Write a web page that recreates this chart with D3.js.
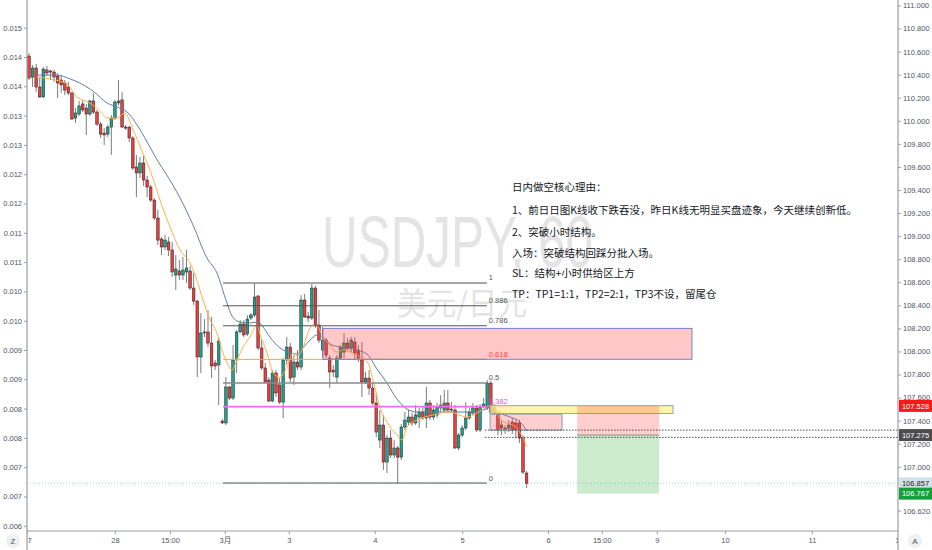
<!DOCTYPE html>
<html lang="zh">
<head>
<meta charset="UTF-8">
<title>USDJPY, 60</title>
<script src="https://d3js.org/d3.v7.min.js"></script>
<style>
  body { margin: 0; background: #fff; }
  svg { display: block; font-family: 'Liberation Sans', Arial, sans-serif; }
</style>
</head>
<body>
<div id="chart"></div>
<script>
// hourly candles (bar index 0 = first bar on the left)
const opens = [110.562,110.380,110.458,110.293,110.207,110.441,110.432,110.423,110.389,110.354,
  110.328,110.293,110.241,110.024,110.059,110.146,110.111,110.059,110.172,110.076,
  109.972,109.894,109.885,109.946,110.024,110.155,110.181,109.946,109.946,109.851,
  109.600,109.548,109.634,109.487,109.426,109.313,109.157,108.975,108.906,108.949,
  108.880,108.663,108.698,108.663,108.689,108.698,108.550,108.437,107.952,108.160,
  108.169,108.073,107.900,107.883,107.397,107.380,107.692,107.596,107.926,108.169,
  108.238,108.151,108.290,108.316,108.481,108.030,107.857,107.752,107.570,107.813,
  107.709,107.561,107.926,108.038,107.778,107.908,107.865,108.446,108.307,108.290,
  108.550,108.229,108.012,108.099,107.943,107.839,107.778,107.943,107.995,108.073,
  108.030,108.082,108.012,107.926,107.735,107.769,107.683,107.553,107.232,107.362,
  107.041,107.249,107.102,107.163,107.084,107.345,107.388,107.431,107.380,107.431,
  107.475,107.423,107.553,107.431,107.449,107.510,107.492,107.553,107.501,107.492,
  107.163,107.275,107.336,107.423,107.466,107.510,107.319,107.527,107.510,107.726,
  107.518,107.466,107.362,107.336,107.336,107.388,107.380,107.380,107.249,106.946];
const highs = [110.588,110.484,110.493,110.380,110.467,110.475,110.441,110.441,110.415,110.397,
  110.354,110.337,110.250,110.111,110.172,110.181,110.146,110.181,110.241,110.094,
  109.990,109.937,109.964,110.050,110.181,110.354,110.250,109.964,109.955,109.868,
  109.704,109.686,109.695,109.522,109.444,109.331,109.227,108.992,109.010,108.992,
  108.949,108.836,108.793,108.819,108.880,108.741,108.680,108.446,108.333,108.281,
  108.359,108.299,107.926,108.125,107.414,107.778,107.700,108.056,108.186,108.273,
  108.273,108.316,108.333,108.594,108.489,108.099,107.900,107.778,107.839,107.839,
  107.769,107.943,108.125,108.073,107.969,108.012,108.489,108.498,108.342,108.585,
  108.568,108.359,108.212,108.116,107.969,107.883,107.969,108.056,108.160,108.116,
  108.125,108.125,108.056,108.082,107.822,107.839,107.726,107.640,107.492,107.449,
  107.275,107.319,107.232,107.180,107.371,107.475,107.492,107.466,107.535,107.510,
  107.527,107.692,107.579,107.535,107.553,107.622,107.666,107.666,107.561,107.535,
  107.293,107.362,107.561,107.510,107.553,107.535,107.544,107.596,107.752,107.743,
  107.544,107.484,107.405,107.362,107.405,107.423,107.405,107.405,107.275,106.963];
const lows = [110.354,110.293,110.250,110.198,110.198,110.389,110.354,110.337,110.198,110.241,
  110.224,110.224,110.007,109.981,110.042,110.076,109.877,110.042,110.059,109.955,
  109.851,109.790,109.860,109.704,110.007,110.137,109.937,109.920,109.816,109.574,
  109.339,109.504,109.435,109.339,109.296,109.140,108.923,108.836,108.880,108.828,
  108.646,108.533,108.620,108.620,108.594,108.533,108.403,107.778,107.813,108.125,
  108.038,107.769,107.839,107.535,107.371,107.362,107.579,107.579,107.813,108.160,
  108.125,108.134,108.273,108.299,108.012,107.839,107.726,107.561,107.561,107.605,
  107.544,107.423,107.883,107.735,107.709,107.839,107.839,108.290,108.255,108.273,
  108.203,108.073,107.952,107.943,107.683,107.778,107.726,107.926,107.943,108.012,
  107.995,107.926,107.908,107.605,107.717,107.622,107.535,107.258,107.163,106.972,
  106.946,107.076,107.076,106.859,107.058,107.319,107.362,107.353,107.362,107.336,
  107.405,107.336,107.405,107.405,107.423,107.475,107.466,107.466,107.475,107.154,
  107.145,107.258,107.319,107.405,107.449,107.301,107.301,107.510,107.492,107.466,
  107.449,107.275,107.275,107.284,107.301,107.284,107.249,107.206,106.937,106.816];
const closes = [110.371,110.458,110.293,110.207,110.449,110.415,110.423,110.380,110.328,110.311,
  110.267,110.241,110.016,110.068,110.129,110.094,110.059,110.172,110.076,109.972,
  109.885,109.877,109.946,110.024,110.163,110.172,109.946,109.937,109.851,109.591,
  109.548,109.634,109.487,109.426,109.313,109.157,108.966,108.906,108.966,108.880,
  108.689,108.715,108.663,108.706,108.724,108.550,108.437,107.952,108.160,108.169,
  108.073,107.874,107.874,108.090,107.380,107.692,107.596,107.926,108.169,108.238,
  108.143,108.281,108.316,108.472,108.030,107.857,107.735,107.570,107.813,107.640,
  107.561,107.926,108.038,107.769,107.908,107.865,108.446,108.299,108.290,108.550,
  108.229,108.099,108.099,107.969,107.822,107.822,107.943,108.038,108.073,108.030,
  108.099,107.986,107.943,107.735,107.769,107.683,107.553,107.301,107.362,107.041,
  107.249,107.102,107.163,107.084,107.345,107.405,107.431,107.380,107.449,107.475,
  107.423,107.553,107.431,107.492,107.518,107.535,107.553,107.492,107.492,107.163,
  107.275,107.336,107.423,107.475,107.510,107.319,107.518,107.544,107.726,107.475,
  107.466,107.319,107.336,107.332,107.362,107.319,107.319,107.249,106.954,106.857];

// moving averages, points
const blueIdx = [2.2,7.8,11.5,14.2,18.2,21.8,24.6,27.4,30.2,33.0,35.8,38.5,42.2,45.8,49.7,52.5,
  55.3,56.7,58.9,61.7,64.0,65.4,67.3,70.1,72.3,74.9,76.5,78.5,80.4,82.1,84.1,86.9,91.6,94.4,
  97.2,100.0,102.8,105.6,108.4,115.6,120.4,124.0,126.8,129.3,131.6,134.4,137.2,139.1];
const blueVals = [110.397,110.397,110.363,110.328,110.250,110.155,110.120,110.076,109.964,109.816,
  109.660,109.530,109.331,109.097,108.811,108.680,108.420,108.307,108.255,108.247,108.255,108.212,
  108.125,108.030,107.995,107.978,108.030,108.099,108.143,108.125,108.064,108.038,108.012,107.978,
  107.848,107.726,107.587,107.501,107.475,107.475,107.475,107.475,107.492,107.518,107.466,107.431,
  107.388,107.310];
const orangeIdx = [2.2,7.3,10.6,13.4,17.0,19.8,21.8,24.6,26.8,29.1,31.8,34.6,36.6,39.4,42.2,45.0,
  46.9,48.6,50.6,52.5,54.2,55.6,56.7,58.1,59.8,61.7,63.7,64.5,66.5,68.2,70.1,72.1,73.7,74.9,76.5,
  77.9,79.3,80.7,82.1,84.1,86.0,87.7,90.5,93.0,94.7,96.1,98.0,100.0,102.8,104.2,105.6,108.4,112.8,
  117.6,122.3,125.1,127.9,129.3,131.6,136.3,139.1];
const orangeVals = [110.380,110.354,110.319,110.207,110.155,110.085,110.024,110.024,110.068,109.920,
  109.721,109.504,109.313,109.079,108.880,108.767,108.620,108.446,108.273,108.160,107.986,107.883,
  107.839,107.926,108.038,108.125,108.229,108.151,107.986,107.813,107.778,107.865,107.986,107.960,
  108.030,108.160,108.229,108.212,108.125,108.056,107.995,108.012,107.986,107.943,107.900,107.752,
  107.518,107.388,107.275,107.232,107.345,107.405,107.449,107.475,107.431,107.466,107.518,107.535,
  107.414,107.336,107.171];

// axes
const rightTicks = [111.0,110.8,110.6,110.4,110.2,110.0,109.8,109.6,109.4,109.2,109.0,108.8,
  108.6,108.4,108.2,108.0,107.8,107.6,107.4,107.2,107.0,106.62];
const leftTicks = [0.0150,0.0145,0.0140,0.0135,0.0130,0.0125,0.0120,0.0115,0.0110,
  0.0105,0.0100,0.0095,0.0090,0.0085,0.0080,0.0075,0.0070,0.0065];
const leftTickLabels = ['0.015','0.014','0.014','0.013','0.013','0.012','0.012','0.011','0.011',
  '0.010','0.010','0.009','0.009','0.008','0.008','0.007','0.007','0.006'];
const timeTicks = [-0.56,24,39.4,54.7,72.6,96.6,121,145,160,175.4,194.4,218.7,243];
const timeLabels = ['27','28','15:00','3月','3','4','5','6','15:00','9','10','11','12'];

// drawings
const fibHigh = 108.594, fibLow = 106.859;
const fibLevels = [1, 0.886, 0.786, 0.618, 0.5, 0.382, 0];
const fibLabels = ['1','0.886','0.786','0.618','0.5','0.382','0'];
const fibSpan = [54.2, 127.9];
const supplyZone = [82.1, 185.2, 108.200, 107.932];
const entryZone = [128.8, 179.9, 107.530, 107.462];
const hourZone = [128.8, 148.9, 107.457, 107.318];
const position = { start: 153.1, end: 176, entry: 107.275, stop: 107.528, target: 106.767 };
const dottedLevels = [107.318, 107.255];
const lastPrice = 106.857;
const axisMarks = [107.528, 107.275, 106.857, 106.767];

const notes = [
  '日内做空核心理由：',
  '1、前日日图K线收下跌吞没，昨日K线无明显买盘迹象，今天继续创新低。',
  '2、突破小时结构。',
  '入场：突破结构回踩分批入场。',
  'SL：结构+小时供给区上方',
  'TP：TP1=1:1，TP2=2:1，TP3不设，留尾仓'
];

const W = 932, H = 550;
const left = 27, right = 898, bottom = 531;

const x = d3.scaleLinear().domain([0, 243]).range([29, 898.9]);
const y = d3.scaleLinear().domain([106.62, 111.0]).range([510.6, 5.5]);
const yL = d3.scaleLinear().domain([0.0065, 0.015]).range([525.8, 27.7]);

const svg = d3.select('#chart').append('svg')
  .attr('width', W).attr('height', H);

const defs = svg.append('defs');
defs.append('clipPath').attr('id', 'plot')
  .append('rect').attr('x', left).attr('y', 0).attr('width', right - left).attr('height', bottom);
defs.append('clipPath').attr('id', 'xaxis')
  .append('rect').attr('x', left).attr('y', bottom).attr('width', right - left).attr('height', H - bottom);

const plot = svg.append('g').attr('clip-path', 'url(#plot)');

// watermark
plot.append('text')
  .attr('x', 322).attr('y', 267)
  .attr('textLength', 271).attr('lengthAdjust', 'spacingAndGlyphs')
  .style('font-size', '72px').style('fill', '#e4e4e4')
  .text('USDJPY, 60');
plot.append('text')
  .attr('x', 397).attr('y', 315)
  .attr('textLength', 130).attr('lengthAdjust', 'spacingAndGlyphs')
  .style('font-family', "'Noto Sans CJK SC', sans-serif")
  .style('font-size', '32px').style('fill', '#e4e4e4')
  .text('美元/日元');

// last price line
plot.append('line')
  .attr('x1', left).attr('x2', right)
  .attr('y1', y(lastPrice)).attr('y2', y(lastPrice))
  .attr('stroke', '#9fd3ee').attr('stroke-width', 1).attr('stroke-dasharray', '1,2');

// candles
const candles = d3.range(opens.length).map(i => ({
  i, o: opens[i], h: highs[i], l: lows[i], c: closes[i]
}));
const bw = 2.6;
const cg = plot.append('g');
cg.selectAll('line.wick').data(candles).join('line')
  .attr('class', 'wick')
  .attr('x1', d => x(d.i)).attr('x2', d => x(d.i))
  .attr('y1', d => y(d.h)).attr('y2', d => y(d.l))
  .attr('stroke', '#6d6d70').attr('stroke-width', 0.9);
cg.selectAll('rect.body').data(candles).join('rect')
  .attr('class', 'body')
  .attr('x', d => x(d.i) - bw / 2)
  .attr('y', d => y(Math.max(d.o, d.c)))
  .attr('width', bw)
  .attr('height', d => Math.max(0.8, Math.abs(y(d.o) - y(d.c))))
  .attr('fill', d => d.c >= d.o ? '#1fa28c' : '#f23b3b')
  .attr('stroke', '#1d1d1d').attr('stroke-width', 0.5);

// moving averages
const line = d3.line().x(d => x(d[0])).y(d => y(d[1])).curve(d3.curveMonotoneX);
plot.append('path')
  .attr('d', line(blueIdx.map((v, k) => [v, blueVals[k]])))
  .attr('fill', 'none').attr('stroke', '#5e7fa3').attr('stroke-width', 1);
plot.append('path')
  .attr('d', line(orangeIdx.map((v, k) => [v, orangeVals[k]])))
  .attr('fill', 'none').attr('stroke', '#ffb04a').attr('stroke-width', 1);

// fibonacci retracement
const fibStyle = {
  '1': ['#8a8a8a', 1.6, '#555'], '0.886': ['#555', 1, '#555'], '0.786': ['#555', 1, '#555'],
  '0.618': ['#f7a440', 1, '#ef4a3c'], '0.5': ['#8a8a8a', 1.6, '#555'],
  '0.382': ['#f06cf0', 1.6, '#e24fe2'], '0': ['#555', 1, '#555']
};
const fg = plot.append('g');
fibLevels.forEach((lv, k) => {
  const p = fibLow + (fibHigh - fibLow) * lv;
  const st = fibStyle[fibLabels[k]];
  fg.append('line')
    .attr('x1', x(fibSpan[0])).attr('x2', x(fibSpan[1]))
    .attr('y1', y(p)).attr('y2', y(p))
    .attr('stroke', st[0]).attr('stroke-width', st[1]);
  fg.append('text')
    .attr('x', x(fibSpan[1]) + 2).attr('y', y(p) - 2.5)
    .style('font-size', '7.5px').style('fill', st[2])
    .text(fibLabels[k]);
});

// zones
function zone(z, fill, stroke) {
  return plot.append('rect')
    .attr('x', x(z[0])).attr('width', x(z[1]) - x(z[0]))
    .attr('y', y(z[2])).attr('height', y(z[3]) - y(z[2]))
    .attr('fill', fill).attr('stroke', stroke).attr('stroke-width', 1);
}
zone(supplyZone, 'rgba(255,70,70,0.3)', '#7d7fc6');
zone(entryZone, 'rgba(255,240,140,0.75)', '#98a4b0');
zone(hourZone, 'rgba(255,80,80,0.28)', '#8d9db0');

// short position tool
const pos = plot.append('g');
pos.append('rect')
  .attr('x', x(position.start)).attr('width', x(position.end) - x(position.start))
  .attr('y', y(position.stop)).attr('height', y(position.entry) - y(position.stop))
  .attr('fill', 'rgba(255,82,82,0.28)');
pos.append('rect')
  .attr('x', x(position.start)).attr('width', x(position.end) - x(position.start))
  .attr('y', y(position.entry)).attr('height', y(position.target) - y(position.entry))
  .attr('fill', 'rgba(40,170,40,0.24)');
pos.append('line')
  .attr('x1', x(position.start)).attr('x2', x(position.end))
  .attr('y1', y(position.entry)).attr('y2', y(position.entry))
  .attr('stroke', '#8c8c8c').attr('stroke-width', 1);

// dotted horizontal levels
dottedLevels.forEach(p => {
  plot.append('line')
    .attr('x1', x(127.4)).attr('x2', right)
    .attr('y1', y(p)).attr('y2', y(p))
    .attr('stroke', '#333').attr('stroke-width', 0.9).attr('stroke-dasharray', '1.5,1.5');
});

// notes
const ng = plot.append('g')
  .style('font-family', "'Noto Sans CJK SC', sans-serif")
  .style('font-size', '10.5px').style('fill', '#131722');
const noteY = [190.5, 214, 235.5, 256.5, 277, 298];
notes.forEach((t, k) => ng.append('text').attr('x', 512).attr('y', noteY[k]).text(t));

// axes
const axisColor = '#9a9da6', labelColor = '#50535e';
const ra = svg.append('g').attr('transform', `translate(${right},0)`)
  .call(d3.axisRight(y).tickValues(rightTicks).tickSize(3).tickPadding(2)
    .tickFormat(d => d.toFixed(3)));
const la = svg.append('g').attr('transform', `translate(${left},0)`)
  .call(d3.axisLeft(yL).tickValues(leftTicks).tickSize(3).tickPadding(2)
    .tickFormat((d, k) => leftTickLabels[k]));
const ba = svg.append('g').attr('clip-path', 'url(#xaxis)')
  .append('g').attr('transform', `translate(0,${bottom})`)
  .call(d3.axisBottom(x).tickValues(timeTicks).tickSize(3).tickPadding(4)
    .tickFormat((d, k) => timeLabels[k]));
[ra, la, ba].forEach(a => {
  a.select('.domain').remove();
  a.selectAll('line').attr('stroke', axisColor);
  a.selectAll('text').style('font-size', '7.5px').style('fill', labelColor)
    .style('font-family', "'Liberation Sans', 'Noto Sans CJK SC', sans-serif");
});

svg.append('line').attr('x1', left).attr('x2', left).attr('y1', 0).attr('y2', H)
  .attr('stroke', axisColor).attr('stroke-width', 1.2);
svg.append('line').attr('x1', right).attr('x2', right).attr('y1', 0).attr('y2', H)
  .attr('stroke', axisColor).attr('stroke-width', 1.2);
svg.append('line').attr('x1', left).attr('x2', right).attr('y1', bottom).attr('y2', bottom)
  .attr('stroke', axisColor).attr('stroke-width', 1.2);

// price marks on the right scale
const markBg = ['#ff1616', '#4d4d4f', '#d3e3ea', '#16a03c'];
const markFg = ['#fff', '#fff', '#222', '#fff'];
axisMarks.forEach((p, k) => {
  const g = svg.append('g').attr('transform', `translate(${right + 1},${y(p)})`);
  g.append('rect').attr('x', 0).attr('y', -6).attr('width', W - right).attr('height', 12)
    .attr('fill', markBg[k]);
  g.append('text').attr('x', 16.5).attr('y', 2.7).attr('text-anchor', 'middle')
    .style('font-size', '7.5px').style('fill', markFg[k])
    .text(p.toFixed(3));
});

// corner buttons
[['Z', 13], ['A', 915]].forEach(([t, cx]) => {
  svg.append('circle').attr('cx', cx).attr('cy', 541).attr('r', 7)
    .attr('fill', '#eef0f4');
  svg.append('text').attr('x', cx).attr('y', 544).attr('text-anchor', 'middle')
    .style('font-size', '8px').style('fill', '#555').text(t);
});
</script>
</body>
</html>
